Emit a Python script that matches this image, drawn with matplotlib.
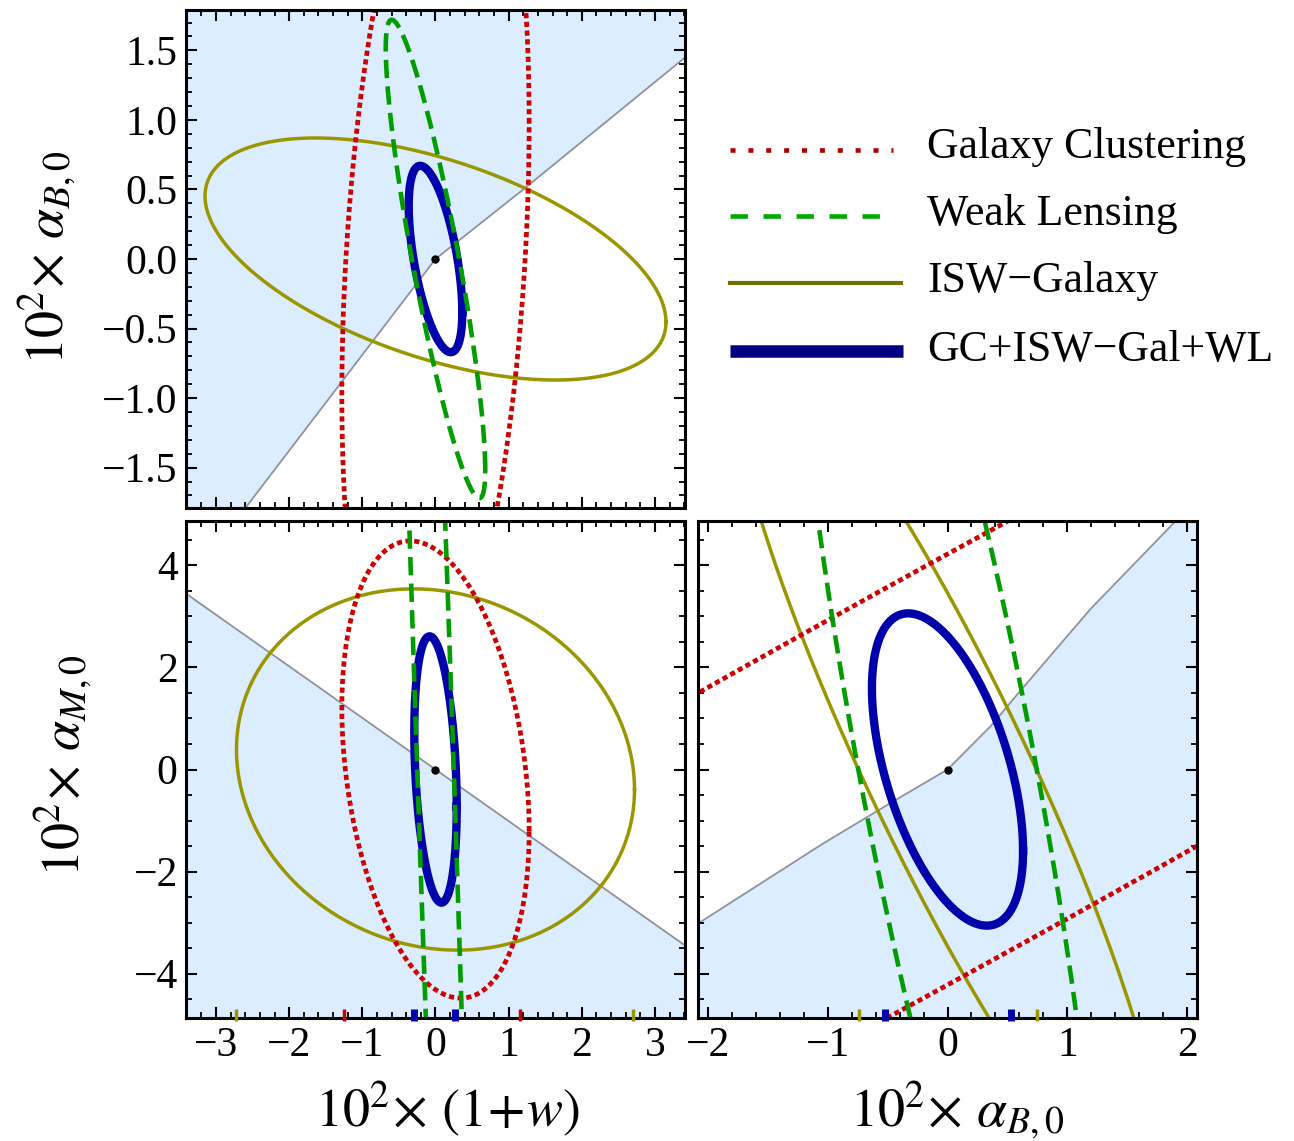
import numpy as np
import matplotlib
matplotlib.use('Agg')
import matplotlib.pyplot as plt
from matplotlib.lines import Line2D
from matplotlib.ticker import MultipleLocator, FixedLocator, FixedFormatter

plt.rcParams['font.family'] = ['Liberation Serif', 'DejaVu Serif']
plt.rcParams['mathtext.fontset'] = 'stix'

# ---------------- data ----------------
probe_names = ['Galaxy Clustering', 'Weak Lensing', 'ISW\u2212Galaxy', 'GC+ISW\u2212Gal+WL']
probe_keys = ['gc', 'wl', 'isw', 'comb']

# ellipse parameters (sigma_x, sigma_y, correlation) per panel, order GC, WL, ISW, combined
tl_sx = [1.28, 0.68, 3.15, 0.366]
tl_sy = [3.37, 1.72, 0.87, 0.67]
tl_rho = [0.29, -0.88, -0.52, -0.57]

bl_sx = [1.28, 0.68, 2.72, 0.29]
bl_sy = [4.48, 27.0, 3.54, 2.61]
bl_rho = [-0.27, -0.93, -0.11, -0.28]

br_sx = [15.0, 1.30, 1.79, 0.63]
br_sy = [19.8, 13.5, 8.35, 3.06]
br_rho = [0.977, -0.82, -0.91, -0.52]

# stability boundaries (shaded side: TL above, BL below, BR below)
tl_bound_x = [-3.6, 0.0, 1.2, 3.6]
tl_bound_y = [-2.48, 0.0, 0.5, 1.53]
bl_bound_x = [-3.6, 3.6]
bl_bound_y = [3.64, -3.64]
br_bound_x = [-2.3, -1.03, -0.47, 0.0, 0.36, 0.61, 1.19, 1.89, 2.3]
br_bound_y = [-3.35, -1.44, -0.65, 0.0, 0.85, 1.55, 3.14, 4.84, 5.9]

# small conditional-error marks on the bottom axes
bl_mark_x = [-2.72, 2.70, -1.25, 1.16, -0.30, 0.26]
bl_mark_k = ['isw', 'isw', 'gc', 'gc', 'comb', 'comb']
br_mark_x = [-0.74, 0.75, -0.52, 0.53]
br_mark_k = ['isw', 'isw', 'comb', 'comb']

# axis ranges and tick labels
tl_xlim = (-3.41, 3.41)
tl_ylim = (-1.79, 1.79)
bl_ylim = (-4.87, 4.87)
br_xlim = (-2.08, 2.08)
tl_yticks = [-1.5, -1.0, -0.5, 0.0, 0.5, 1.0, 1.5]
tl_yticklabels = ['\u22121.5', '\u22121.0', '\u22120.5', '0.0', '0.5', '1.0', '1.5']
bl_xticks = [-3, -2, -1, 0, 1, 2, 3]
bl_xticklabels = ['\u22123', '\u22122', '\u22121', '0', '1', '2', '3']
bl_yticks = [-4, -2, 0, 2, 4]
bl_yticklabels = ['\u22124', '\u22122', '0', '2', '4']
br_xticks = [-2, -1, 0, 1, 2]
br_xticklabels = ['\u22122', '\u22121', '0', '1', '2']

# ---------------- styles ----------------
style = {
    'gc': dict(color='#CC0000', lw=3.4, ls=(0, (1.1, 0.75)), dash_capstyle='butt', zorder=5),
    'wl': dict(color='#009C00', lw=3.3, ls=(0, (4.0, 1.8)), dash_capstyle='butt', zorder=6),
    'isw': dict(color='#9A9600', lw=2.5, ls='-', zorder=4),
    'comb': dict(color='#0000AA', lw=6.0, ls='-', zorder=3),
}
shade_color = '#DCEDFF'
bound_color = '#8E939B'

W, H = 1294, 1141
fig = plt.figure(figsize=(W / 100, H / 100), dpi=100)
ax_tl = fig.add_axes([186 / W, 1 - 508 / H, 499 / W, 498 / H])
ax_bl = fig.add_axes([186 / W, 1 - 1018 / H, 499 / W, 497 / H])
ax_br = fig.add_axes([698 / W, 1 - 1018 / H, 499 / W, 497 / H])


def ellipse(sx, sy, rho, n=6000):
    t = np.linspace(0, 2 * np.pi, n)
    C = np.array([[sx * sx, rho * sx * sy], [rho * sx * sy, sy * sy]])
    L = np.linalg.cholesky(C)
    p = L @ np.vstack([np.cos(t), np.sin(t)])
    return p[0], p[1]


def draw_panel(ax, sx, sy, rho, bx, by, shade_above, xlim, ylim):
    xx = np.linspace(min(bx), max(bx), 800)
    yy = np.interp(xx, bx, by)
    if shade_above:
        ax.fill_between(xx, yy, 100, color=shade_color, lw=0, zorder=0)
    else:
        ax.fill_between(xx, -100, yy, color=shade_color, lw=0, zorder=0)
    ax.plot(bx, by, color=bound_color, lw=1.3, zorder=1)
    for k, a, b, r in zip(probe_keys, sx, sy, rho):
        ex, ey = ellipse(a, b, r)
        ax.plot(ex, ey, **style[k])
    ax.plot([0], [0], 'o', color='black', ms=5, zorder=10)
    ax.set_xlim(*xlim)
    ax.set_ylim(*ylim)
    for s in ax.spines.values():
        s.set_linewidth(2.2)
        s.set_zorder(20)
    ax.tick_params(which='both', direction='in', top=True, right=True, zorder=21)
    ax.tick_params(which='major', length=8, width=1.5)
    ax.tick_params(which='minor', length=4.5, width=1.3)


draw_panel(ax_tl, tl_sx, tl_sy, tl_rho, tl_bound_x, tl_bound_y, True, tl_xlim, tl_ylim)
draw_panel(ax_bl, bl_sx, bl_sy, bl_rho, bl_bound_x, bl_bound_y, False, tl_xlim, bl_ylim)
draw_panel(ax_br, br_sx, br_sy, br_rho, br_bound_x, br_bound_y, False, br_xlim, bl_ylim)

# ticks
ax_tl.xaxis.set_major_locator(FixedLocator(bl_xticks))
ax_tl.xaxis.set_minor_locator(MultipleLocator(0.2))
ax_tl.set_xticklabels([])
ax_tl.yaxis.set_major_locator(FixedLocator(tl_yticks))
ax_tl.yaxis.set_major_formatter(FixedFormatter(tl_yticklabels))
ax_tl.yaxis.set_minor_locator(MultipleLocator(0.1))

ax_bl.xaxis.set_major_locator(FixedLocator(bl_xticks))
ax_bl.xaxis.set_major_formatter(FixedFormatter(bl_xticklabels))
ax_bl.xaxis.set_minor_locator(MultipleLocator(0.2))
ax_bl.yaxis.set_major_locator(FixedLocator(bl_yticks))
ax_bl.yaxis.set_major_formatter(FixedFormatter(bl_yticklabels))
ax_bl.yaxis.set_minor_locator(MultipleLocator(0.5))

ax_br.xaxis.set_major_locator(FixedLocator(br_xticks))
ax_br.xaxis.set_major_formatter(FixedFormatter(br_xticklabels))
ax_br.xaxis.set_minor_locator(MultipleLocator(0.2))
ax_br.yaxis.set_major_locator(FixedLocator(bl_yticks))
ax_br.yaxis.set_minor_locator(MultipleLocator(0.5))
ax_br.set_yticklabels([])

for ax in (ax_tl, ax_bl):
    ax.tick_params(axis='y', labelsize=30, pad=6)
for ax in (ax_bl, ax_br):
    ax.tick_params(axis='x', labelsize=30, pad=6)

# conditional-error marks
for ax, xs, ks, ylim in ((ax_bl, bl_mark_x, bl_mark_k, bl_ylim), (ax_br, br_mark_x, br_mark_k, bl_ylim)):
    for x, k in zip(xs, ks):
        lw = 5.0 if k == 'comb' else 2.5
        ax.plot([x, x], [ylim[0] - 0.05, ylim[0] + 0.17], color=style[k]['color'],
                lw=lw, solid_capstyle='butt', clip_on=False, zorder=22)

# axis labels
fs_lab = 39
fig.text(447 / W, 1 - 1127 / H, r'$10^2\!\times\,(1\!+\!w)$', fontsize=fs_lab, ha='center', va='baseline')
fig.text(957 / W, 1 - 1127 / H, r'$10^2\!\times\,\alpha_{B,0}$', fontsize=fs_lab, ha='center', va='baseline')
fig.text(64 / W, 1 - 258 / H, r'$10^2\!\times\,\alpha_{B,0}$', fontsize=fs_lab, ha='center', va='baseline',
         rotation=90, rotation_mode='anchor')
fig.text(80 / W, 1 - 766 / H, r'$10^2\!\times\,\alpha_{M,0}$', fontsize=fs_lab, ha='center', va='baseline',
         rotation=90, rotation_mode='anchor')

# legend
leg_line_y = [150, 216, 283, 351]
leg_text_y = [147, 214, 281, 350]
leg_x_end = [893, 891, 901, 903]
leg_style = {
    'gc': dict(color='#B00000', lw=3.3, ls=(0, (1.1, 2.8)), dash_capstyle='butt'),
    'wl': dict(color='#00AA00', lw=3.3, ls=(0, (3.8, 3.4)), dash_capstyle='butt'),
    'isw': dict(color='#707000', lw=3.0, ls='-'),
    'comb': dict(color='#000080', lw=9.0, ls='-', solid_capstyle='butt'),
}
for k, name, ly, ty, xe in zip(probe_keys, probe_names, leg_line_y, leg_text_y, leg_x_end):
    fig.add_artist(Line2D([730 / W, xe / W], [1 - ly / H, 1 - ly / H], transform=fig.transFigure, **leg_style[k]))
    fig.text(927 / W, 1 - ty / H, name, fontsize=31.5, ha='left', va='center')

fig.savefig('out.png', dpi=100)
